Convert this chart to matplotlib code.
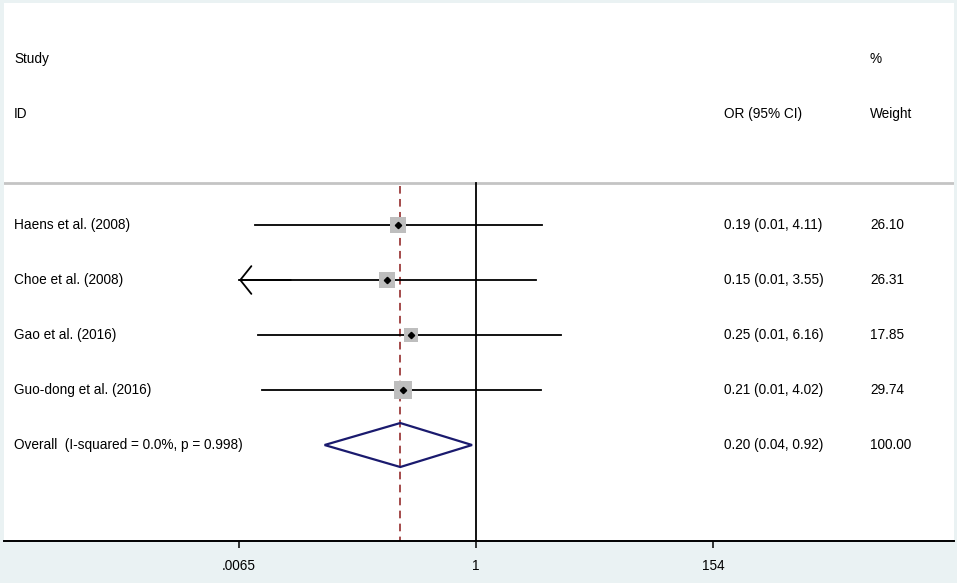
import numpy as np
import matplotlib
matplotlib.use("Agg")
from matplotlib import pyplot as plt
from matplotlib.patches import Polygon

plt.rcParams['font.family'] = ['Liberation Sans', 'DejaVu Sans']

# Study data
studies = ['Haens et al. (2008)', 'Choe et al. (2008)', 'Gao et al. (2016)',
           'Guo-dong et al. (2016)']
odds = [0.19, 0.15, 0.25, 0.21]
ci_low = [0.0091, 0.0055, 0.0097, 0.0106]
ci_high = [4.11, 3.55, 6.16, 4.02]
weights = [26.10, 26.31, 17.85, 29.74]

# Pooled estimate
overall_label = 'Overall  (I-squared = 0.0%, p = 0.998)'
overall_or = 0.20
overall_low = 0.04
overall_high = 0.92

tick_vals = [0.0065, 1, 154]
tick_labels = ['.0065', '1', '154']

bg = '#eaf2f3'
fig = plt.figure(figsize=(9.57, 5.83), dpi=100, facecolor=bg)
ax = fig.add_axes([4 / 957, 42 / 583, 950 / 957, 538 / 583])
ax.set_facecolor('white')
ax.set_xscale('log')
ax.set_xlim(10 ** -4.358, 10 ** 4.414)
ax.set_ylim(5.745, -4.036)

xmin_axis = tick_vals[0]
rows = np.arange(len(studies))

# header
blend = ax.get_yaxis_transform()
fs = 9.8
col_study = 10 / 950
col_or = 720 / 950
col_w = 866 / 950
ax.text(col_study, -3.02, 'Study', transform=blend, fontsize=fs, va='center')
ax.text(col_study, -2.02, 'ID', transform=blend, fontsize=fs, va='center')
ax.text(col_or, -2.02, 'OR (95% CI)', transform=blend, fontsize=fs, va='center')
ax.text(col_w, -3.02, '%', transform=blend, fontsize=fs, va='center')
ax.text(col_w, -2.02, 'Weight', transform=blend, fontsize=fs, va='center')
ax.axhline(-0.764, color='#c4c4c4', lw=2)

# reference lines
ax.plot([1, 1], [-0.764, 5.745], color='black', lw=1.3)
ax.plot([overall_or, overall_or], [-0.71, 5.745], color='#8b1a1a', lw=1.1,
        linestyle=(0, (5, 3.5)))

for i, r in enumerate(rows):
    lo = max(ci_low[i], xmin_axis)
    ax.plot([lo, ci_high[i]], [r, r], color='black', lw=1.3, zorder=2)
    if ci_low[i] < xmin_axis:
        ax.annotate('', xy=(xmin_axis, r), xytext=(xmin_axis * 3, r),
                    arrowprops=dict(arrowstyle='->,head_length=0.8,head_width=1.0',
                                    lw=1.3, color='black', shrinkA=0, shrinkB=0))
    ax.plot(odds[i], r, marker='s', markersize=2.3 * np.sqrt(weights[i]),
            color='#bebebe', markeredgewidth=0, zorder=3)
    ax.plot(odds[i], r, marker='D', markersize=3.2, color='black', zorder=4)
    ax.text(col_study, r, studies[i], transform=blend, fontsize=fs, va='center')
    ax.text(col_or, r, f'{odds[i]:.2f} ({ci_low[i]:.2f}, {ci_high[i]:.2f})',
            transform=blend, fontsize=fs, va='center')
    ax.text(col_w, r, f'{weights[i]:.2f}', transform=blend, fontsize=fs, va='center')

# overall diamond
yo = len(studies)
diamond = Polygon([[overall_low, yo], [overall_or, yo - 0.4],
                   [overall_high, yo], [overall_or, yo + 0.4]],
                  closed=True, fill=False, edgecolor='#1a1a6e', lw=1.6, zorder=3)
ax.add_patch(diamond)
ax.text(col_study, yo, overall_label, transform=blend, fontsize=fs, va='center')
ax.text(col_or, yo, f'{overall_or:.2f} ({overall_low:.2f}, {overall_high:.2f})',
        transform=blend, fontsize=fs, va='center')
ax.text(col_w, yo, '100.00', transform=blend, fontsize=fs, va='center')

# axes styling
for s in ['top', 'left', 'right']:
    ax.spines[s].set_visible(False)
ax.spines['bottom'].set_linewidth(1.4)
ax.set_yticks([])
ax.set_xticks(tick_vals)
ax.set_xticklabels(tick_labels)
ax.minorticks_off()
ax.tick_params(axis='x', length=5, width=1.1, labelsize=fs, pad=8)

fig.savefig('out.png', dpi=100, facecolor=bg)
